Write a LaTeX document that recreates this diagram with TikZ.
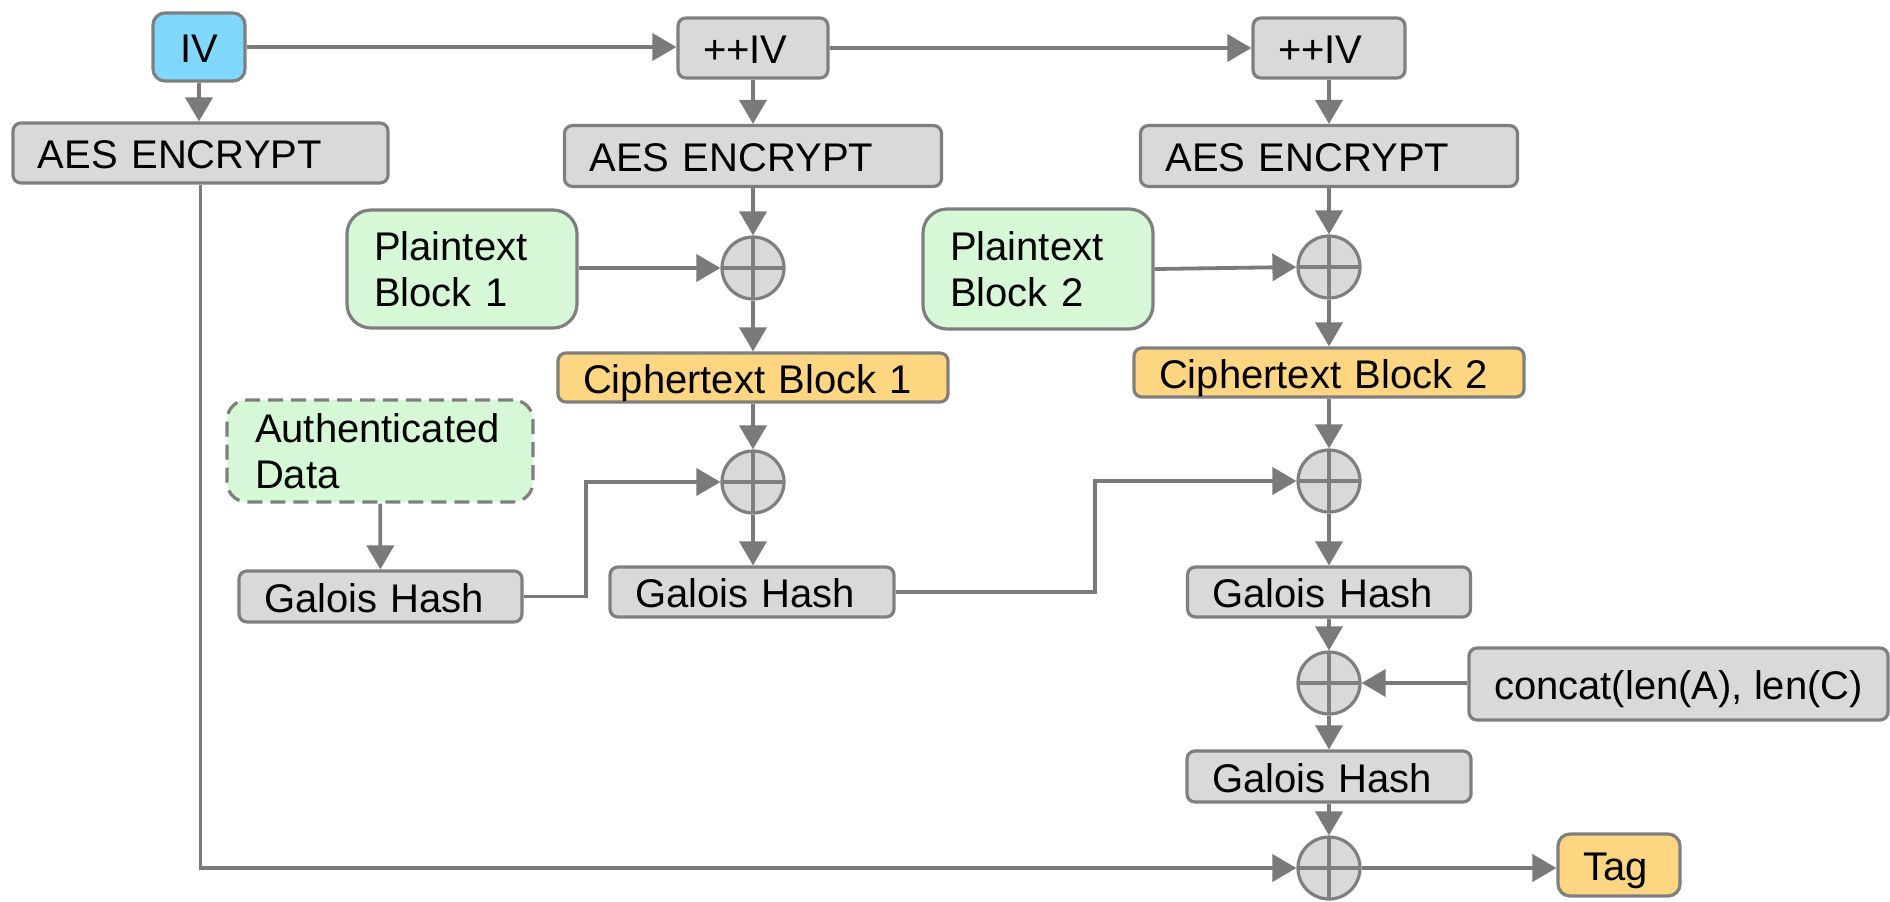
\documentclass[tikz,border=0pt]{standalone}
\usepackage{fontspec}
\setmainfont{Liberation Sans}
\usetikzlibrary{arrows.meta}
\definecolor{bordc}{HTML}{7F7F7F}
\definecolor{linec}{HTML}{7A7A7A}
\definecolor{grayf}{HTML}{D9D9D9}
\definecolor{bluef}{HTML}{80D8FF}
\definecolor{greenf}{HTML}{D6F8D6}
\definecolor{orangef}{HTML}{FED580}
\begin{document}
\begin{tikzpicture}[x=0.5pt,y=-0.5pt,
  font=\fontsize{20}{23}\selectfont,
  gbox/.style={draw=bordc, line width=1.6pt, rounded corners=4pt, fill=grayf,
    inner xsep=12.5pt, inner ysep=0pt, align=left, text height=15.9pt, text depth=0pt},
  obox/.style={gbox, fill=orangef},
  pbox/.style={draw=bordc, line width=1.6pt, rounded corners=12pt, fill=greenf,
    inner xsep=13.5pt, inner ysep=0pt, align=left},
  xor/.style={circle, draw=bordc, line width=1.6pt, fill=grayf, minimum size=31pt, inner sep=0pt,
    path picture={\draw[bordc, line width=1.6pt]
      (path picture bounding box.north) -- (path picture bounding box.south)
      (path picture bounding box.west) -- (path picture bounding box.east);}},
  arr/.style={draw=linec, line width=1.9pt, -{Triangle[length=12pt,width=13.5pt]}},
  ln/.style={draw=linec, line width=1.9pt}
]
\useasboundingbox (0,0) rectangle (1890,901);

% top row
\node[gbox, fill=bluef, rounded corners=6pt, minimum width=46pt, minimum height=34pt, align=center] (IV) at (199,47) {IV};
\node[gbox, text width=50pt, minimum height=30pt] (I1) at (753,48) {++IV};
\node[gbox, text width=51pt, minimum height=30pt] (I2) at (1329,48) {++IV};

% AES
\node[gbox, text width=162.5pt, minimum height=30pt] (A1) at (200.5,153) {AES ENCRYPT};
\node[gbox, text width=163.5pt, minimum height=30.5pt] (A2) at (753,156) {AES ENCRYPT};
\node[gbox, text width=163.5pt, minimum height=30.5pt] (A3) at (1329,156) {AES ENCRYPT};

% plaintext and first xors
\node[pbox, text width=88pt, minimum height=59pt] (P1) at (462,269) {Plaintext\\Block 1};
\node[pbox, text width=88pt, minimum height=60pt] (P2) at (1038,269) {Plaintext\\Block 2};
\node[xor] (X1) at (753,268) {};
\node[xor] (X3) at (1329,267) {};

% ciphertext
\node[obox, text width=170pt, minimum height=24.5pt] (C1) at (753,377.5) {Ciphertext Block 1};
\node[obox, text width=170pt, minimum height=24.5pt] (C2) at (1329,372.5) {Ciphertext Block 2};

% authenticated data
\node[pbox, rounded corners=10pt, dash pattern=on 7.5pt off 4pt, text width=125pt, inner xsep=14pt, minimum height=51pt] (AD) at (380,451) {Authenticated\\Data};

% second xors
\node[xor] (X2) at (753,482) {};
\node[xor] (X4) at (1329,481) {};

% galois hashes
\node[gbox, text width=116.5pt, minimum height=25.5pt] (GL) at (380.5,596.5) {Galois Hash};
\node[gbox, text width=117pt, minimum height=25pt] (GM) at (752,592) {Galois Hash};
\node[gbox, text width=116.5pt, minimum height=25pt] (GR1) at (1329,592) {Galois Hash};

\node[xor] (X5) at (1329,683) {};
\node[gbox, minimum height=36pt] (CC) at (1678.5,684) {concat(len(A), len(C)};

\node[gbox, text width=117pt, minimum height=25.5pt] (GR2) at (1329,776.5) {Galois Hash};
\node[xor] (X6) at (1329,868) {};
\node[obox, rounded corners=6pt, text width=36pt, minimum height=31pt] (T) at (1619,865) {Tag};

\coordinate (b1) at (586,0);
\coordinate (b2) at (1095,0);

% connectors
\draw[arr] (IV.east) -- (I1.west |- IV.east);
\draw[arr] (I1.east) -- (I2.west);
\draw[arr] (IV.south) -- (IV.south |- A1.north);
\draw[arr] (I1) -- (A2);
\draw[arr] (I2) -- (A3);
\draw[arr] (A2) -- (X1);
\draw[arr] (A3) -- (X3);
\draw[arr] (P1.east |- X1) -- (X1.west);
\draw[arr] (P2.east) -- (X3.west);
\draw[arr] (X1) -- (C1);
\draw[arr] (X3) -- (C2);
\draw[arr] (C1) -- (X2);
\draw[arr] (C2) -- (X4);
\draw[arr] (AD) -- (GL);
\draw[arr] (GL.east) -| (b1 |- X2) -- (X2.west);
\draw[arr] (X2) -- (X2 |- GM.north);
\draw[arr] (GM.east) -| (b2 |- X4) -- (X4.west);
\draw[arr] (X4) -- (GR1);
\draw[arr] (GR1) -- (X5);
\draw[arr] (CC.west |- X5) -- (X5.east);
\draw[arr] (X5) -- (GR2);
\draw[arr] (GR2) -- (X6);
\draw[arr] (A1.south) |- (X6.west);
\draw[arr] (X6.east) -- (T.west |- X6.east);
\end{tikzpicture}
\end{document}
